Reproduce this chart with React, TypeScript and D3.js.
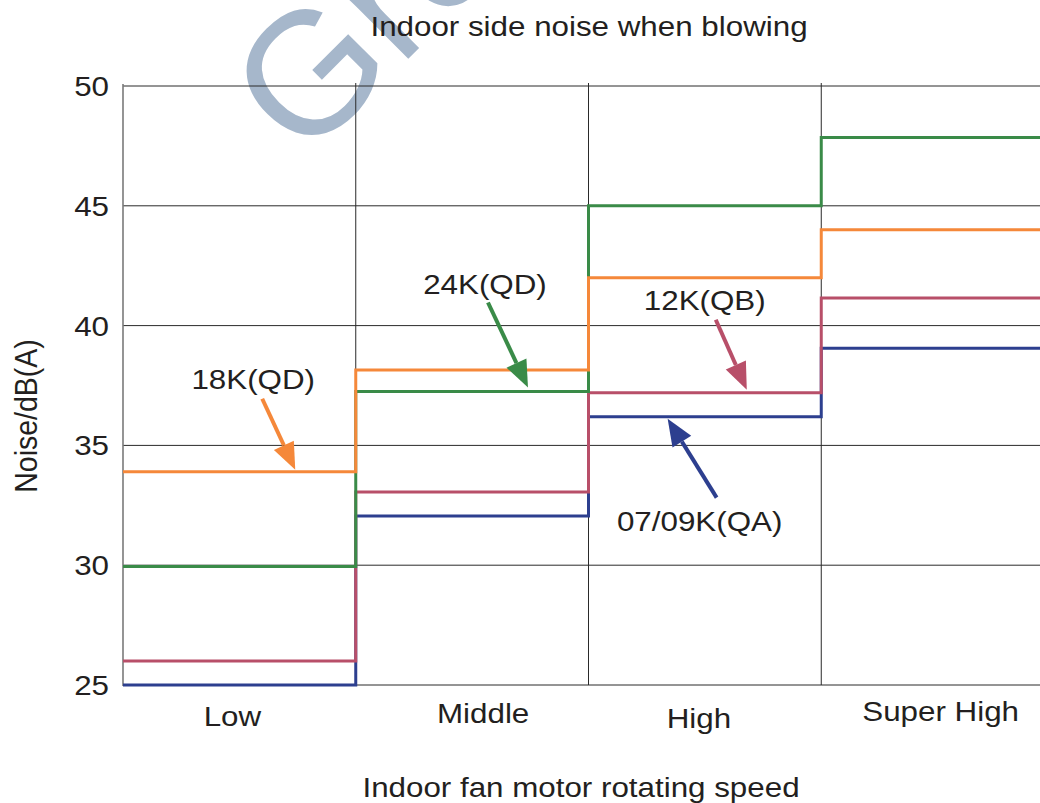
import * as d3 from "d3";

// fan speeds
const speeds = ["Low", "Middle", "High", "Super High"];

// noise levels dB(A), one value per speed
const qa0709 = [25.0, 32.05, 36.2, 39.05];
const qb12 = [26.0, 33.05, 37.2, 41.15];
const qd24 = [29.95, 37.25, 45.0, 47.85];
const qd18 = [33.9, 38.15, 42.0, 44.0];

const yTicks = [25, 30, 35, 40, 45, 50];

const W = 1040;
const H = 803;
const FONT = "'Liberation Sans', Arial, sans-serif";
const SX = 1.1; // source picture is a bit stretched horizontally

// drawing order matters: green over red, orange over green
const series = [
    { name: "07/09K(QA)", values: qa0709, color: "#2d3f8f" },
    { name: "12K(QB)", values: qb12, color: "#b84f69" },
    { name: "24K(QD)", values: qd24, color: "#3a8b48" },
    { name: "18K(QD)", values: qd18, color: "#f5883a" },
];

// callouts: tip sits on a series step, label sits at the tail end
const callouts = [
    { series: "18K(QD)", band: 0, frac: 0.74, tipDy: -2, tail: [-33, -71], label: [-9, -10] },
    { series: "24K(QD)", band: 1, frac: 0.74, tipDy: -4, tail: [-40, -85], label: [-3, -8] },
    { series: "12K(QB)", band: 2, frac: 0.68, tipDy: -3, tail: [-31, -70], label: [-11, -10] },
    { series: "07/09K(QA)", band: 2, frac: 0.34, tipDy: 2, tail: [49, 79], label: [-17, 33] },
];

const catNudge = [[-7, 726], [11, 723], [-6, 728], [3, 721]];

function Txt({ x, y, size = 28.5, anchor = "middle", rotate = 0, children }: any) {
    const t = `translate(${x},${y}) scale(${SX},1)` + (rotate ? ` rotate(${rotate})` : "");
    return (
        <text transform={t} textAnchor={anchor} fontFamily={FONT} fontSize={size} fill="#231f20">
            {children}
        </text>
    );
}

export default function App() {
    const x = d3.scaleBand<string>().domain(speeds).range([123, 1054]).padding(0);
    const y = d3.scaleLinear().domain([25, 50]).range([685, 86]);
    const bw = x.bandwidth();

    const line = d3.line<[number, number]>()
        .x(d => d[0])
        .y(d => d[1])
        .curve(d3.curveStepAfter);

    const stepPoints = (vals: number[]): [number, number][] => {
        const pts: [number, number][] = speeds.map((s, i) => [x(s)!, y(vals[i])]);
        pts.push([x.range()[1], y(vals[vals.length - 1])]);
        return pts;
    };

    const arrow = (tx: number, ty: number, sx: number, sy: number) => {
        const ang = Math.atan2(ty - sy, tx - sx);
        const len = 27, hw = 11;
        const bx = tx - len * Math.cos(ang), by = ty - len * Math.sin(ang);
        const px = -Math.sin(ang) * hw, py = Math.cos(ang) * hw;
        return { bx, by, head: `${tx},${ty} ${bx + px},${by + py} ${bx - px},${by - py}` };
    };

    return (
        <svg width={W} height={H} style={{ position: "absolute", left: 0, top: 0, background: "#fff" }}>
            {/* watermark */}
            <text transform="translate(304,163) rotate(-45)" fontFamily={FONT} fontSize={174} fill="#a6b7cb">
                Gree
            </text>

            <Txt x={589} y={36}>Indoor side noise when blowing</Txt>

            {/* horizontal grid */}
            <g>
                {yTicks.map(t => (
                    <line key={t} x1={123} x2={W} y1={y(t)} y2={y(t)} stroke="#2a2a2a" strokeWidth={1} />
                ))}
            </g>
            {/* band separators */}
            <g>
                {speeds.slice(1).map(s => (
                    <line key={s} x1={x(s)} x2={x(s)} y1={83} y2={685} stroke="#2a2a2a" strokeWidth={1} />
                ))}
            </g>
            <line x1={123} x2={123} y1={84} y2={686} stroke="#7a7a7a" strokeWidth={1.6} />

            {yTicks.map(t => (
                <Txt key={t} x={109} y={y(t) + 10} anchor="end">{t}</Txt>
            ))}

            {speeds.map((s, i) => (
                <Txt key={s} x={x(s)! + bw / 2 + catNudge[i][0]} y={catNudge[i][1]}>{s}</Txt>
            ))}

            <Txt x={581} y={797}>Indoor fan motor rotating speed</Txt>
            <Txt x={37} y={416} rotate={-90}>Noise/dB(A)</Txt>

            {/* step series */}
            <g fill="none" strokeWidth={3}>
                {series.map(s => (
                    <path key={s.name} d={line(stepPoints(s.values)) ?? ""} stroke={s.color} />
                ))}
            </g>

            {/* callouts */}
            {callouts.map(c => {
                const s = series.find(d => d.name === c.series)!;
                const tx = x(speeds[c.band])! + c.frac * bw;
                const ty = y(s.values[c.band]) + c.tipDy;
                const sx = tx + c.tail[0], sy = ty + c.tail[1];
                const a = arrow(tx, ty, sx, sy);
                return (
                    <g key={c.series}>
                        <line x1={sx} y1={sy} x2={a.bx} y2={a.by} stroke={s.color} strokeWidth={4} />
                        <polygon points={a.head} fill={s.color} />
                        <Txt x={sx + c.label[0]} y={sy + c.label[1]}>{c.series}</Txt>
                    </g>
                );
            })}
        </svg>
    );
}
